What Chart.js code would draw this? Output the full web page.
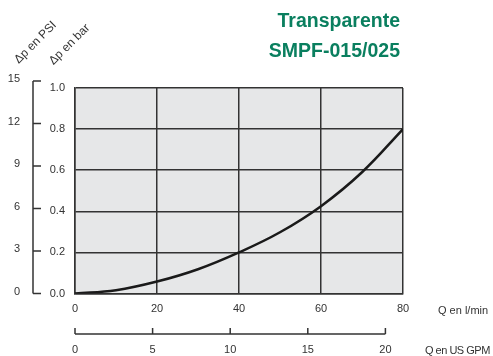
<!DOCTYPE html>
<html>
<head>
<meta charset="utf-8">
<script src="https://cdn.jsdelivr.net/npm/chart.js@4.4.1/dist/chart.umd.min.js"></script>
<style>
  body { margin: 0; background: #fff; }
  .wrap { position: relative; width: 493px; height: 356px; font-family: "Liberation Sans", Arial, sans-serif; color: #333; }
  canvas { position: absolute; left: 0; top: 0; }
  .title { position: absolute; right: 93px; top: 5px; text-align: right; font-weight: bold; font-size: 19.5px; line-height: 30px; color: #0a7f5f; }
  .lbl { position: absolute; font-size: 11px; line-height: 14px; white-space: nowrap; }
  .rot { position: absolute; font-size: 12px; line-height: 14px; white-space: nowrap; transform: translate(-50%, -50%) rotate(-45deg); }
</style>
</head>
<body>
<div class="wrap">
  <canvas id="chart" width="493" height="356"></canvas>
  <div class="title">Transparente<br>SMPF-015/025</div>
  <div class="rot" style="left:35px; top:42px;">Δp en PSI</div>
  <div class="rot" style="left:69px; top:44px;">Δp en bar</div>
  <div class="lbl" style="left:438px; top:303px;">Q en l/min</div>
  <div class="lbl" style="left:425px; top:343px; letter-spacing:-0.5px;">Q en US GPM</div>
</div>
<script>
// flow (l/min) and pressure drop (bar)
const flowLpm = [0, 10, 20, 30, 40, 50, 60, 70, 80];
const dropBar = [0, 0.016, 0.058, 0.118, 0.2, 0.298, 0.425, 0.59, 0.8];

// secondary units
const psiTicks = [0, 3, 6, 9, 12, 15];
const gpmTicks = [0, 5, 10, 15, 20];
const PSI_TO_BAR = 0.0689476;
const GPM_TO_LPM = 3.78541;

const ink = '#333';

// grey plot background
const plotBg = {
    id: 'plotBg',
    beforeDraw(chart) {
        const { ctx, chartArea: a } = chart;
        ctx.save();
        ctx.fillStyle = '#e6e7e8';
        ctx.fillRect(a.left, a.top, a.right - a.left, a.bottom - a.top);
        ctx.restore();
    }
};

// extra PSI and GPM scales drawn as brackets
const unitAxes = {
    id: 'unitAxes',
    afterDraw(chart) {
        const { ctx } = chart;
        const y = chart.scales.y;
        const x = chart.scales.x;
        ctx.save();
        ctx.strokeStyle = ink;
        ctx.fillStyle = ink;
        ctx.lineWidth = 1.5;
        ctx.font = '11px "Liberation Sans", Arial, sans-serif';

        // PSI axis on the left
        const px = 33;
        const yTop = y.getPixelForValue(psiTicks[psiTicks.length - 1] * PSI_TO_BAR);
        const yBot = y.getPixelForValue(0);
        ctx.beginPath();
        ctx.moveTo(px, yTop);
        ctx.lineTo(px, yBot);
        for (const v of psiTicks) {
            const py = y.getPixelForValue(v * PSI_TO_BAR);
            ctx.moveTo(px, py);
            ctx.lineTo(px + 8, py);
        }
        ctx.stroke();
        ctx.textAlign = 'right';
        ctx.textBaseline = 'middle';
        for (const v of psiTicks) {
            ctx.fillText(String(v), 20, y.getPixelForValue(v * PSI_TO_BAR) - 2);
        }

        // GPM axis under the l/min axis
        const gy = 334;
        const xL = x.getPixelForValue(0);
        const xR = x.getPixelForValue(gpmTicks[gpmTicks.length - 1] * GPM_TO_LPM);
        ctx.beginPath();
        ctx.moveTo(xL, gy);
        ctx.lineTo(xR, gy);
        for (const v of gpmTicks) {
            const gx = x.getPixelForValue(v * GPM_TO_LPM);
            ctx.moveTo(gx, gy);
            ctx.lineTo(gx, gy - 6);
        }
        ctx.stroke();
        ctx.textAlign = 'center';
        for (const v of gpmTicks) {
            ctx.fillText(String(v), x.getPixelForValue(v * GPM_TO_LPM), 350);
        }
        ctx.restore();
    }
};

new Chart(document.getElementById('chart'), {
    type: 'line',
    data: {
        datasets: [{
            data: flowLpm.map((q, i) => ({ x: q, y: dropBar[i] })),
            borderColor: '#1a1a1a',
            borderWidth: 2.5,
            pointRadius: 0,
            tension: 0.4,
            fill: false
        }]
    },
    options: {
        responsive: false,
        animation: false,
        layout: { padding: { left: 33, right: 90, top: 88, bottom: 38.5 } },
        plugins: { legend: { display: false }, tooltip: { enabled: false } },
        scales: {
            x: {
                type: 'linear',
                min: 0,
                max: 80,
                afterFit(scale) { scale.height = 24; },
                ticks: { stepSize: 20, padding: 9, color: ink, font: { size: 11, family: '"Liberation Sans", Arial' } },
                grid: { color: ink, lineWidth: 1.5, drawTicks: false },
                border: { color: ink, width: 1.5 }
            },
            y: {
                min: 0,
                max: 1,
                afterFit(scale) { scale.width = 42; },
                ticks: {
                    stepSize: 0.2,
                    padding: 10,
                    color: ink,
                    font: { size: 11, family: '"Liberation Sans", Arial' },
                    callback: v => v.toFixed(1)
                },
                grid: { color: ink, lineWidth: 1.5, drawTicks: false },
                border: { color: ink, width: 1.5 }
            }
        }
    },
    plugins: [plotBg, unitAxes]
});
</script>
</body>
</html>
